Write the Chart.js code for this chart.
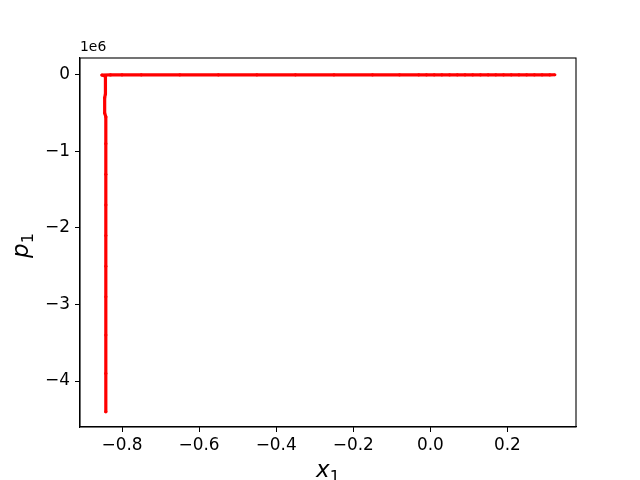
<!DOCTYPE html>
<html>
<head>
<meta charset="utf-8">
<script src="https://cdn.jsdelivr.net/npm/chart.js@4"></script>
<style>
html, body { margin: 0; padding: 0; background: #fff; }
</style>
</head>
<body>
<canvas id="chart" width="640" height="480"></canvas>
<script>
// trajectory x1 / p1
var x1 = [0.323, 0.31, 0.29, 0.27, 0.25, 0.23, 0.21, 0.19, 0.17, 0.15, 0.13, 0.11, 0.09, 0.07, 0.05, 0.03, 0.01, -0.01, -0.03,
          -0.08, -0.15, -0.25, -0.35, -0.45, -0.55, -0.65, -0.75, -0.80, -0.83, -0.852,
          -0.843, -0.843, -0.845, -0.845, -0.842, -0.842, -0.842, -0.842, -0.842, -0.842, -0.842, -0.842, -0.842, -0.842];
var p1 = [0, -1000, -1000, -1000, -1000, -1000, -1000, -1000, -1000, -1000, -1000, -1000, -1000, -1000, -1000, -1000, -1000, -1000, -1000,
          -1000, -1000, -1000, -1000, -1000, -1000, -1000, -1000, -1000, -2000, -3000,
          -20000, -250000, -300000, -500000, -550000, -900000, -1300000, -1700000, -2100000, -2500000, -2900000, -3400000, -3900000, -4400000];
var xTicks = [-0.8, -0.6, -0.4, -0.2, 0.0, 0.2];
var yTicks = [0, -1e6, -2e6, -3e6, -4e6];

var points = [];
for (var i = 0; i < x1.length; i++) {
    points.push({x: x1[i], y: p1[i]});
}

function minus(s) {
    return s.replace('-', '\u2212');
}

// box around the axes, "1e6" offset label and the x_1 / p_1 axis labels
var framePlugin = {
    id: 'frame',
    afterDraw: function(chart) {
        var a = chart.chartArea;
        var ctx = chart.ctx;
        ctx.save();
        ctx.strokeStyle = '#000';
        ctx.lineWidth = 1.1;
        ctx.strokeRect(a.left, a.top, a.right - a.left, a.bottom - a.top);
        ctx.fillStyle = '#000';
        ctx.font = '13.9px "DejaVu Sans"';
        ctx.textBaseline = 'bottom';
        ctx.textAlign = 'left';
        ctx.fillText('1e6', a.left, a.top - 4);

        // axis labels with a real subscript
        var big = 'italic 23px "DejaVu Sans"';
        var small = '16px "DejaVu Sans"';
        ctx.textBaseline = 'alphabetic';
        ctx.font = big;
        var wx = ctx.measureText('x').width;
        var wp = ctx.measureText('p').width;
        ctx.font = small;
        var w1 = ctx.measureText('1').width;

        var cx = (a.left + a.right) / 2;
        var sx = cx - (wx + w1) / 2;
        ctx.font = big;
        ctx.fillText('x', sx, 477);
        ctx.font = small;
        ctx.fillText('1', sx + wx, 482);

        ctx.translate(28, (a.top + a.bottom) / 2 + 3);
        ctx.rotate(-Math.PI / 2);
        var sp = -(wp + w1) / 2;
        ctx.font = big;
        ctx.fillText('p', sp, 0);
        ctx.font = small;
        ctx.fillText('1', sp + wp, 4.5);
        ctx.restore();
    }
};

var ctx = document.getElementById("chart").getContext("2d");
var chart = new Chart(ctx, {
    type: 'scatter',
    data: {
        datasets: [{
            data: points,
            showLine: true,
            borderColor: '#ff0000',
            backgroundColor: '#ff0000',
            borderWidth: 3.2,
            borderJoinStyle: 'round',
            borderCapStyle: 'butt',
            pointRadius: 1.6,
            pointBorderWidth: 0,
            pointHoverRadius: 1.6
        }]
    },
    options: {
        responsive: false,
        animation: false,
        events: [],
        layout: {
            padding: {left: 0, right: 64, top: 58, bottom: 0}
        },
        plugins: {
            legend: {display: false},
            tooltip: {enabled: false}
        },
        scales: {
            x: {
                type: 'linear',
                min: -0.909,
                max: 0.378,
                afterBuildTicks: function(scale) {
                    scale.ticks = xTicks.map(function(v) { return {value: v}; });
                },
                afterFit: function(scale) { scale.height = 53; },
                ticks: {
                    color: '#000',
                    font: {family: 'DejaVu Sans', size: 16.9},
                    padding: 3,
                    maxRotation: 0,
                    callback: function(v) { return minus(v.toFixed(1)); }
                },
                grid: {
                    display: true,
                    drawOnChartArea: false,
                    drawTicks: true,
                    tickLength: 5,
                    color: '#000'
                },
                border: {display: true, color: '#000', width: 1.1}
            },
            y: {
                type: 'linear',
                min: -4.6e6,
                max: 0.219e6,
                afterBuildTicks: function(scale) {
                    scale.ticks = yTicks.map(function(v) { return {value: v}; });
                },
                afterFit: function(scale) { scale.width = 80; },
                ticks: {
                    color: '#000',
                    font: {family: 'DejaVu Sans', size: 16.9},
                    padding: 5,
                    callback: function(v) { return minus(String(Math.round(v / 1e6))); }
                },
                grid: {
                    display: true,
                    drawOnChartArea: false,
                    drawTicks: true,
                    tickLength: 5,
                    color: '#000'
                },
                border: {display: true, color: '#000', width: 1.1}
            }
        }
    },
    plugins: [framePlugin]
});
</script>
</body>
</html>
